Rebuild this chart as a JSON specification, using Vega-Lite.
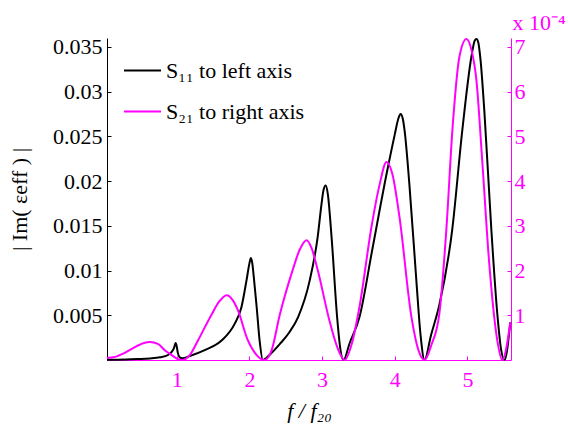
{
  "$schema": "https://vega.github.io/schema/vega-lite/v6.json",
  "autosize": {"type": "none"},
  "padding": {"left": 107, "top": 38, "right": 57, "bottom": 65},
  "width": 404,
  "height": 322,
  "background": "white",
  "config": {
    "view": {"stroke": null},
    "font": "Liberation Serif",
    "axis": {"grid": false, "labelFont": "Liberation Serif", "titleFont": "Liberation Serif", "labelFontSize": 22, "titleFontSize": 22, "titleFontWeight": "normal", "domainWidth": 1, "tickWidth": 1},
    "legend": {"labelFont": "Liberation Serif", "labelFontSize": 22}
  },
  "datasets": {
    "curves": [
      {"f": 0.04, "value": 0.00002, "series": "S₁₁ to left axis"},
      {"f": 0.3, "value": 0.00005, "series": "S₁₁ to left axis"},
      {"f": 0.46, "value": 0.0001, "series": "S₁₁ to left axis"},
      {"f": 0.63, "value": 0.00017, "series": "S₁₁ to left axis"},
      {"f": 0.77, "value": 0.0003, "series": "S₁₁ to left axis"},
      {"f": 0.88, "value": 0.00056, "series": "S₁₁ to left axis"},
      {"f": 0.93, "value": 0.0009, "series": "S₁₁ to left axis"},
      {"f": 0.96, "value": 0.0013, "series": "S₁₁ to left axis"},
      {"f": 0.985, "value": 0.0019, "series": "S₁₁ to left axis"},
      {"f": 1.0, "value": 0.0015, "series": "S₁₁ to left axis"},
      {"f": 1.015, "value": 0.0008, "series": "S₁₁ to left axis"},
      {"f": 1.04, "value": 0.0003, "series": "S₁₁ to left axis"},
      {"f": 1.08, "value": 0.0002, "series": "S₁₁ to left axis"},
      {"f": 1.18, "value": 0.00045, "series": "S₁₁ to left axis"},
      {"f": 1.385, "value": 0.0011, "series": "S₁₁ to left axis"},
      {"f": 1.62, "value": 0.0022, "series": "S₁₁ to left axis"},
      {"f": 1.8, "value": 0.0041, "series": "S₁₁ to left axis"},
      {"f": 1.89, "value": 0.0059, "series": "S₁₁ to left axis"},
      {"f": 1.96, "value": 0.0089, "series": "S₁₁ to left axis"},
      {"f": 2.0, "value": 0.0108, "series": "S₁₁ to left axis"},
      {"f": 2.02, "value": 0.0114, "series": "S₁₁ to left axis"},
      {"f": 2.04, "value": 0.0108, "series": "S₁₁ to left axis"},
      {"f": 2.06, "value": 0.0093, "series": "S₁₁ to left axis"},
      {"f": 2.1, "value": 0.0059, "series": "S₁₁ to left axis"},
      {"f": 2.14, "value": 0.0022, "series": "S₁₁ to left axis"},
      {"f": 2.185, "value": 0.0, "series": "S₁₁ to left axis"},
      {"f": 2.28, "value": 0.0006, "series": "S₁₁ to left axis"},
      {"f": 2.42, "value": 0.0018, "series": "S₁₁ to left axis"},
      {"f": 2.55, "value": 0.0031, "series": "S₁₁ to left axis"},
      {"f": 2.67, "value": 0.0048, "series": "S₁₁ to left axis"},
      {"f": 2.83, "value": 0.0089, "series": "S₁₁ to left axis"},
      {"f": 2.94, "value": 0.0138, "series": "S₁₁ to left axis"},
      {"f": 2.99, "value": 0.0173, "series": "S₁₁ to left axis"},
      {"f": 3.02, "value": 0.019, "series": "S₁₁ to left axis"},
      {"f": 3.05, "value": 0.0195, "series": "S₁₁ to left axis"},
      {"f": 3.08, "value": 0.0185, "series": "S₁₁ to left axis"},
      {"f": 3.13, "value": 0.0138, "series": "S₁₁ to left axis"},
      {"f": 3.21, "value": 0.0045, "series": "S₁₁ to left axis"},
      {"f": 3.25, "value": 0.0013, "series": "S₁₁ to left axis"},
      {"f": 3.295, "value": 0.0, "series": "S₁₁ to left axis"},
      {"f": 3.38, "value": 0.0019, "series": "S₁₁ to left axis"},
      {"f": 3.515, "value": 0.0048, "series": "S₁₁ to left axis"},
      {"f": 3.69, "value": 0.0123, "series": "S₁₁ to left axis"},
      {"f": 3.89, "value": 0.0209, "series": "S₁₁ to left axis"},
      {"f": 4.0, "value": 0.0252, "series": "S₁₁ to left axis"},
      {"f": 4.05, "value": 0.027, "series": "S₁₁ to left axis"},
      {"f": 4.08, "value": 0.0275, "series": "S₁₁ to left axis"},
      {"f": 4.11, "value": 0.027, "series": "S₁₁ to left axis"},
      {"f": 4.135, "value": 0.0257, "series": "S₁₁ to left axis"},
      {"f": 4.2, "value": 0.0198, "series": "S₁₁ to left axis"},
      {"f": 4.3, "value": 0.0086, "series": "S₁₁ to left axis"},
      {"f": 4.355, "value": 0.0028, "series": "S₁₁ to left axis"},
      {"f": 4.41, "value": 0.0, "series": "S₁₁ to left axis"},
      {"f": 4.5, "value": 0.0028, "series": "S₁₁ to left axis"},
      {"f": 4.615, "value": 0.0062, "series": "S₁₁ to left axis"},
      {"f": 4.79, "value": 0.0145, "series": "S₁₁ to left axis"},
      {"f": 4.93, "value": 0.0257, "series": "S₁₁ to left axis"},
      {"f": 5.055, "value": 0.0339, "series": "S₁₁ to left axis"},
      {"f": 5.1, "value": 0.0357, "series": "S₁₁ to left axis"},
      {"f": 5.125, "value": 0.0359, "series": "S₁₁ to left axis"},
      {"f": 5.15, "value": 0.0355, "series": "S₁₁ to left axis"},
      {"f": 5.18, "value": 0.0336, "series": "S₁₁ to left axis"},
      {"f": 5.235, "value": 0.0276, "series": "S₁₁ to left axis"},
      {"f": 5.33, "value": 0.0145, "series": "S₁₁ to left axis"},
      {"f": 5.41, "value": 0.0053, "series": "S₁₁ to left axis"},
      {"f": 5.465, "value": 0.0011, "series": "S₁₁ to left axis"},
      {"f": 5.51, "value": 0.0, "series": "S₁₁ to left axis"},
      {"f": 5.59, "value": 0.0042, "series": "S₁₁ to left axis"},

      {"f": 0.04, "value": 4.5e-6, "series": "S₂₁ to right axis"},
      {"f": 0.15, "value": 7e-6, "series": "S₂₁ to right axis"},
      {"f": 0.285, "value": 1.6e-5, "series": "S₂₁ to right axis"},
      {"f": 0.45, "value": 3.1e-5, "series": "S₂₁ to right axis"},
      {"f": 0.55, "value": 3.8e-5, "series": "S₂₁ to right axis"},
      {"f": 0.63, "value": 4.0e-5, "series": "S₂₁ to right axis"},
      {"f": 0.74, "value": 3.6e-5, "series": "S₂₁ to right axis"},
      {"f": 0.835, "value": 2.2e-5, "series": "S₂₁ to right axis"},
      {"f": 0.93, "value": 1.1e-5, "series": "S₂₁ to right axis"},
      {"f": 1.014, "value": 2e-6, "series": "S₂₁ to right axis"},
      {"f": 1.07, "value": 0.0, "series": "S₂₁ to right axis"},
      {"f": 1.18, "value": 1.1e-5, "series": "S₂₁ to right axis"},
      {"f": 1.29, "value": 4.3e-5, "series": "S₂₁ to right axis"},
      {"f": 1.48, "value": 1.02e-4, "series": "S₂₁ to right axis"},
      {"f": 1.59, "value": 1.32e-4, "series": "S₂₁ to right axis"},
      {"f": 1.687, "value": 1.45e-4, "series": "S₂₁ to right axis"},
      {"f": 1.77, "value": 1.34e-4, "series": "S₂₁ to right axis"},
      {"f": 1.84, "value": 1.12e-4, "series": "S₂₁ to right axis"},
      {"f": 1.976, "value": 4.5e-5, "series": "S₂₁ to right axis"},
      {"f": 2.1, "value": 1.1e-5, "series": "S₂₁ to right axis"},
      {"f": 2.21, "value": 0.0, "series": "S₂₁ to right axis"},
      {"f": 2.306, "value": 2.2e-5, "series": "S₂₁ to right axis"},
      {"f": 2.416, "value": 1.0e-4, "series": "S₂₁ to right axis"},
      {"f": 2.595, "value": 2.01e-4, "series": "S₂₁ to right axis"},
      {"f": 2.69, "value": 2.46e-4, "series": "S₂₁ to right axis"},
      {"f": 2.787, "value": 2.68e-4, "series": "S₂₁ to right axis"},
      {"f": 2.856, "value": 2.5e-4, "series": "S₂₁ to right axis"},
      {"f": 2.94, "value": 2.01e-4, "series": "S₂₁ to right axis"},
      {"f": 3.1, "value": 8.9e-5, "series": "S₂₁ to right axis"},
      {"f": 3.213, "value": 2.7e-5, "series": "S₂₁ to right axis"},
      {"f": 3.31, "value": 0.0, "series": "S₂₁ to right axis"},
      {"f": 3.405, "value": 3.4e-5, "series": "S₂₁ to right axis"},
      {"f": 3.515, "value": 1.19e-4, "series": "S₂₁ to right axis"},
      {"f": 3.68, "value": 2.98e-4, "series": "S₂₁ to right axis"},
      {"f": 3.79, "value": 3.91e-4, "series": "S₂₁ to right axis"},
      {"f": 3.887, "value": 4.43e-4, "series": "S₂₁ to right axis"},
      {"f": 3.97, "value": 4.14e-4, "series": "S₂₁ to right axis"},
      {"f": 4.065, "value": 3.2e-4, "series": "S₂₁ to right axis"},
      {"f": 4.23, "value": 9.6e-5, "series": "S₂₁ to right axis"},
      {"f": 4.326, "value": 2.2e-5, "series": "S₂₁ to right axis"},
      {"f": 4.41, "value": 0.0, "series": "S₂₁ to right axis"},
      {"f": 4.505, "value": 3.4e-5, "series": "S₂₁ to right axis"},
      {"f": 4.615, "value": 1.05e-4, "series": "S₂₁ to right axis"},
      {"f": 4.71, "value": 2.91e-4, "series": "S₂₁ to right axis"},
      {"f": 4.794, "value": 5.15e-4, "series": "S₂₁ to right axis"},
      {"f": 4.89, "value": 6.78e-4, "series": "S₂₁ to right axis"},
      {"f": 4.986, "value": 7.18e-4, "series": "S₂₁ to right axis"},
      {"f": 5.055, "value": 6.94e-4, "series": "S₂₁ to right axis"},
      {"f": 5.124, "value": 6.26e-4, "series": "S₂₁ to right axis"},
      {"f": 5.206, "value": 4.41e-4, "series": "S₂₁ to right axis"},
      {"f": 5.3, "value": 2.17e-4, "series": "S₂₁ to right axis"},
      {"f": 5.41, "value": 4.5e-5, "series": "S₂₁ to right axis"},
      {"f": 5.48, "value": 0.0, "series": "S₂₁ to right axis"},
      {"f": 5.59, "value": 8.3e-5, "series": "S₂₁ to right axis"}
    ]
  },
  "data": {"name": "curves"},
  "layer": [
    {
      "transform": [{"filter": "datum.series == 'S₁₁ to left axis'"}],
      "mark": {"type": "line", "strokeWidth": 2, "interpolate": "monotone"},
      "encoding": {
        "x": {"field": "f", "type": "quantitative",
          "scale": {"domain": [0.04, 5.6], "nice": false, "zero": false},
          "axis": {"values": [1, 2, 3, 4, 5], "format": "d", "title": "f / f₂₀", "titleFontStyle": "italic", "titleX": 202, "titleY": 57, "titleBaseline": "alphabetic",
            "labelColor": "#FF00FF", "domainColor": "#FF00FF", "tickColor": "#FF00FF", "tickSize": -4, "labelPadding": 13, "titleColor": "black"}},
        "y": {"field": "value", "type": "quantitative",
          "scale": {"domain": [0, 0.036], "nice": false},
          "axis": {"values": [0.005, 0.01, 0.015, 0.02, 0.025, 0.03, 0.035], "format": "~g", "orient": "left",
            "title": "| Im( εeff ) |", "titleX": -88, "titleY": 161, "titleAngle": -90, "titleBaseline": "middle", "titleAlign": "center",
            "labelColor": "black", "domainColor": "black", "tickColor": "black", "tickSize": -4, "labelPadding": 9}},
        "color": {"field": "series", "type": "nominal",
          "scale": {"domain": ["S₁₁ to left axis", "S₂₁ to right axis"], "range": ["black", "#FF00FF"]},
          "legend": {"orient": "none", "legendX": 16, "legendY": 13, "title": null, "symbolType": "stroke", "symbolSize": 1369, "symbolStrokeWidth": 2,
            "labelFont": "Liberation Serif", "labelFontSize": 22, "labelColor": "black", "labelLimit": 400, "labelOffset": 4, "rowPadding": 10, "padding": 0}}
      }
    },
    {
      "transform": [{"filter": "datum.series == 'S₂₁ to right axis'"}],
      "mark": {"type": "line", "strokeWidth": 2, "interpolate": "monotone"},
      "encoding": {
        "x": {"field": "f", "type": "quantitative"},
        "y": {"field": "value", "type": "quantitative",
          "scale": {"domain": [0, 0.00072], "nice": false},
          "axis": {"orient": "right", "values": [0.0001, 0.0002, 0.0003, 0.0004, 0.0005, 0.0006, 0.0007], "labelExpr": "'' + round(datum.value * 10000)",
            "title": "x 10⁻⁴", "titleAngle": 0, "titleX": 1, "titleY": -9, "titleAlign": "left", "titleBaseline": "alphabetic", "titleColor": "#FF00FF",
            "labelColor": "#FF00FF", "domainColor": "#FF00FF", "tickColor": "#FF00FF", "tickSize": -4, "labelPadding": 7}},
        "color": {"field": "series", "type": "nominal"}
      }
    }
  ],
  "resolve": {"scale": {"y": "independent"}}
}
